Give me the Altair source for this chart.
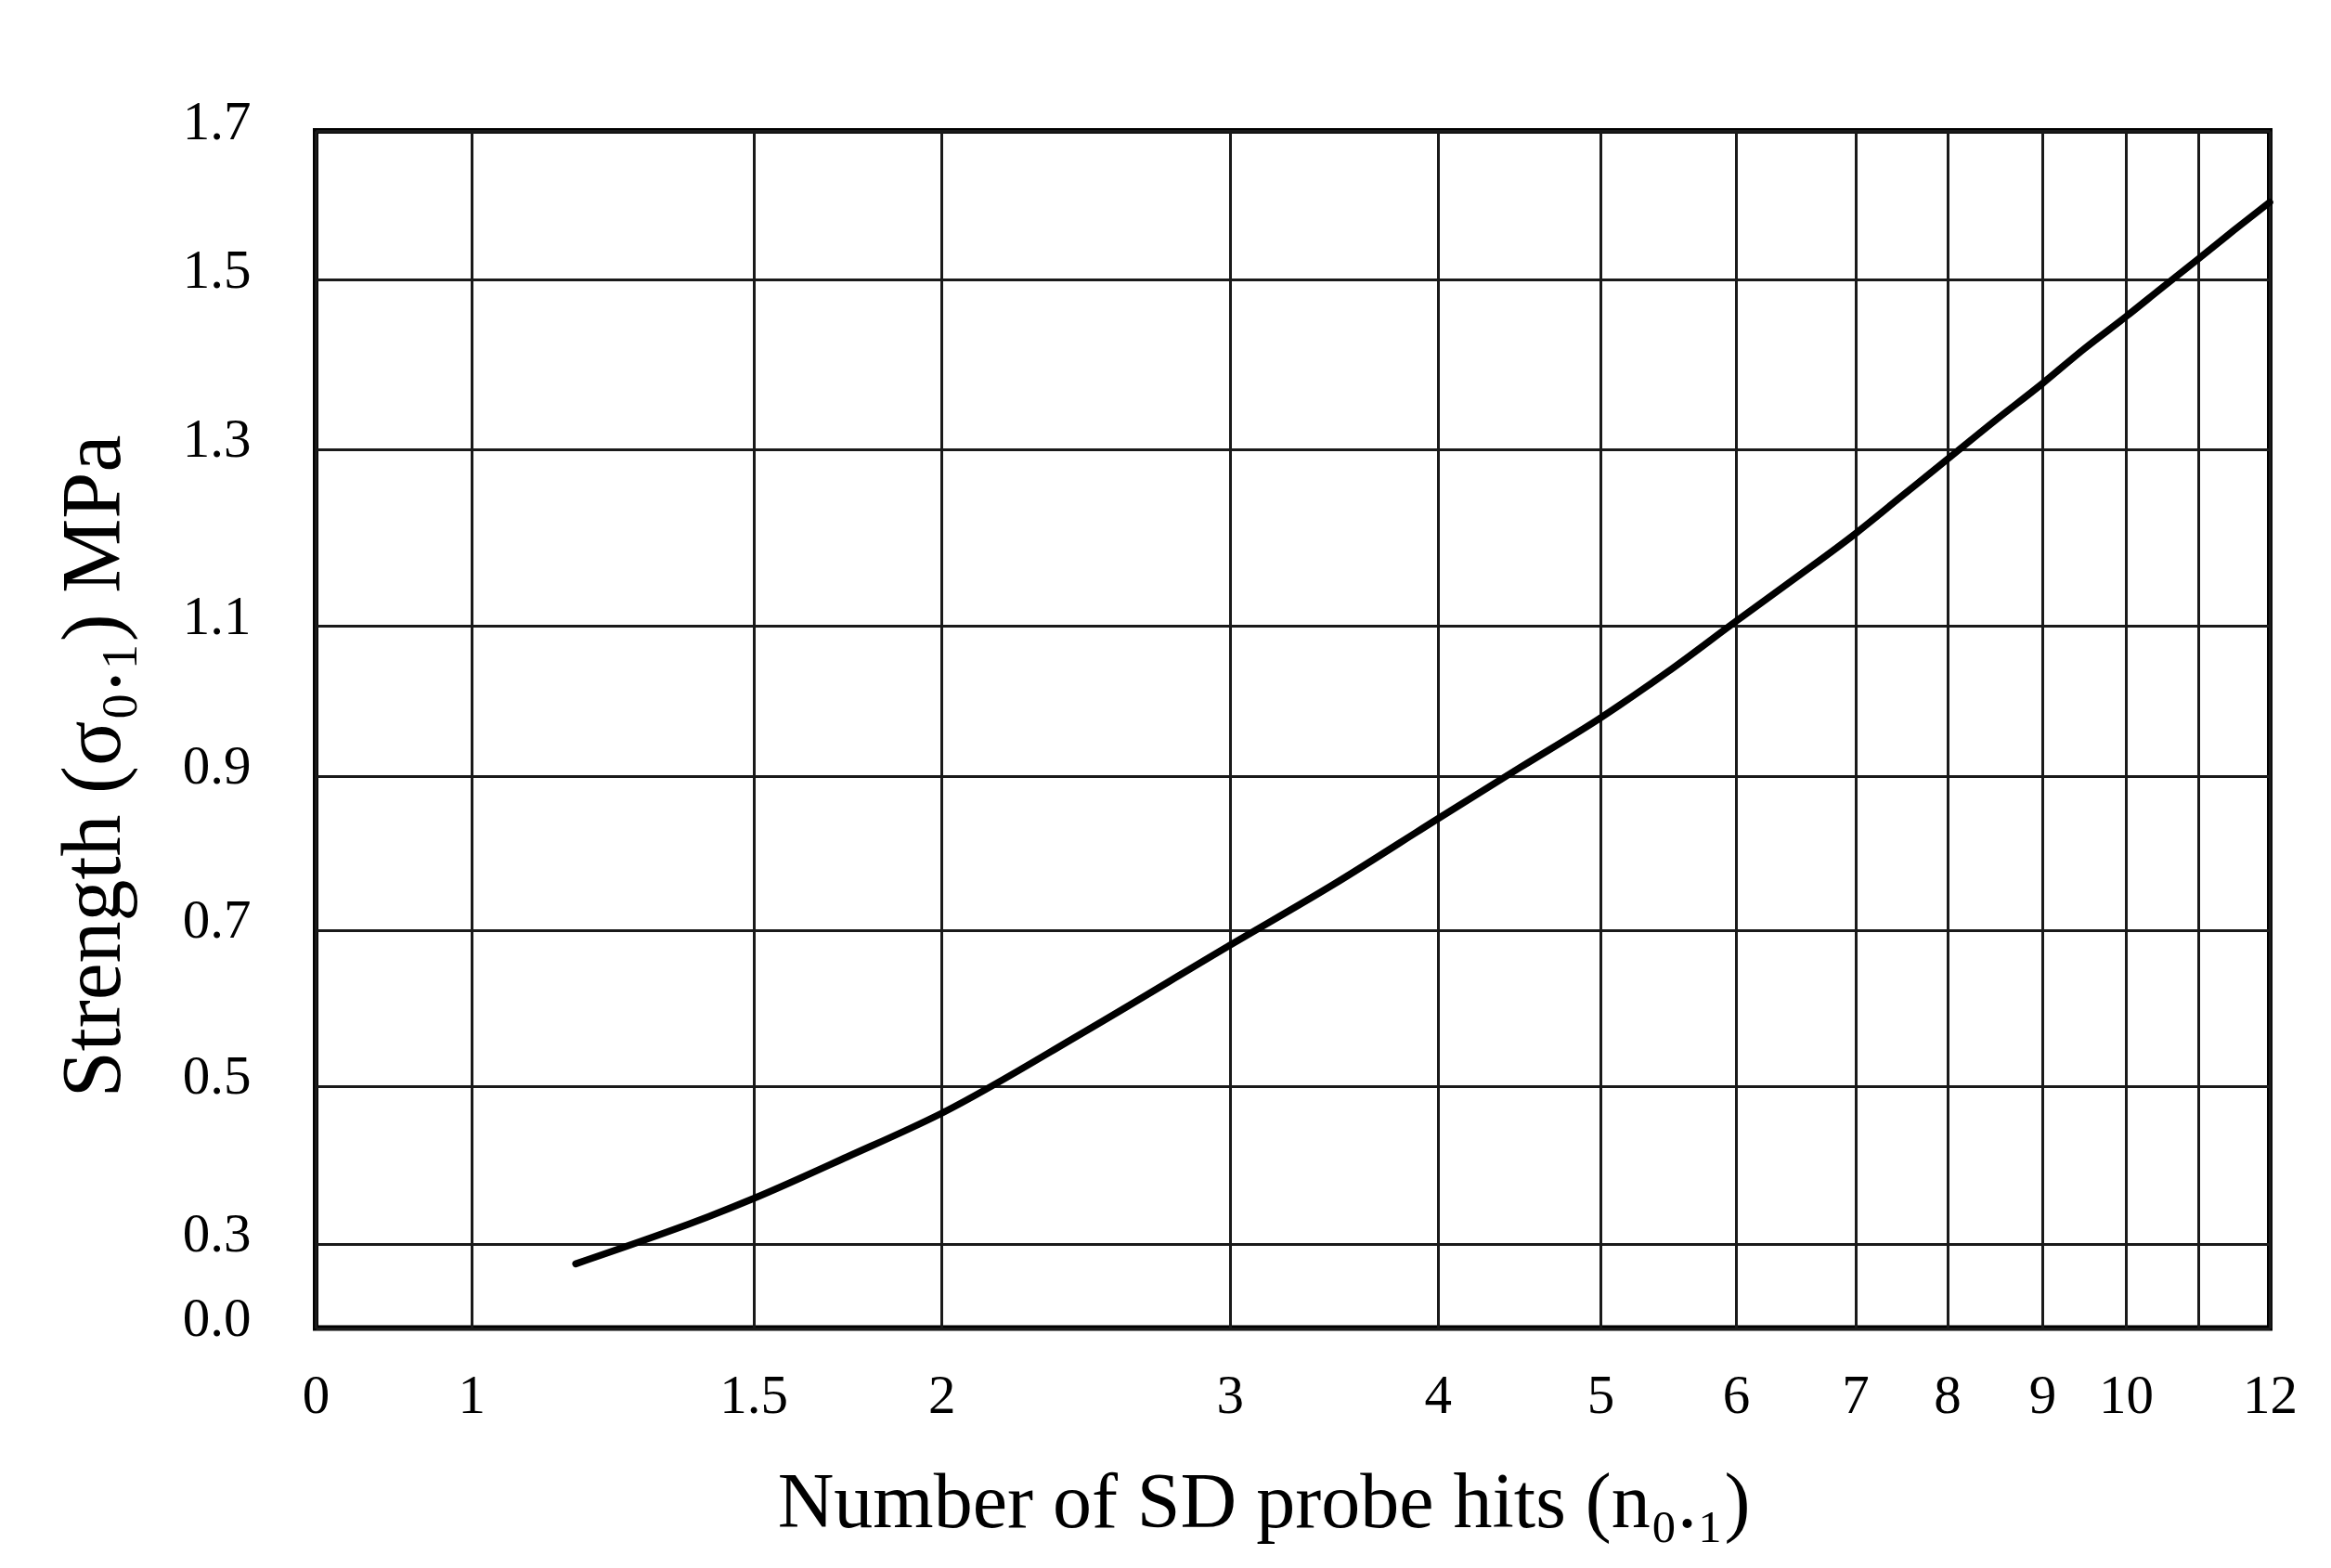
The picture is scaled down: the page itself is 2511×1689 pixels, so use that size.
import altair as alt
import pandas as pd

# Curve (number of hits -> strength, MPa)
hits = [1.185, 1.5, 1.75, 2.0, 2.5, 3.0, 3.5, 4.0, 4.5, 5.0, 5.5, 6.0,
        6.5, 7.0, 7.5, 8.0, 8.5, 9.0, 9.5, 10.0, 10.5, 11.0, 11.5, 12.0]
strength = [0.228, 0.357, 0.410, 0.465, 0.570, 0.680, 0.759, 0.844, 0.910, 0.977, 1.039, 1.105,
            1.154, 1.204, 1.246, 1.288, 1.333, 1.377, 1.418, 1.456, 1.490, 1.527, 1.566, 1.604]

x_ticks = [0, 1, 1.5, 2, 3, 4, 5, 6, 7, 8, 9, 10, 11, 12]
y_ticks = [0.0, 0.3, 0.5, 0.7, 0.9, 1.1, 1.3, 1.5, 1.7]

df = pd.DataFrame({"hits": hits, "strength": strength})

# piecewise (non-uniform) axis scales as drawn on the original graph paper
x_range = [0, 167.7, 471.7, 674.2, 984.7, 1208.8, 1384, 1530, 1658.5, 1757.5, 1860, 1950, 2027.5, 2105]
y_range = [1289.5, 1198.5, 1028.5, 860.5, 694.5, 533, 342.5, 160, 0]

FONT = "Liberation Serif"

chart = alt.Chart(df).mark_line(
    color="black", strokeWidth=7.5, interpolate="monotone", strokeCap="round"
).encode(
    x=alt.X(
        "hits:Q",
        scale=alt.Scale(domain=x_ticks, range=x_range, nice=False, zero=False),
        axis=alt.Axis(
            values=x_ticks, format="~g",
            labelExpr="datum.value == 11 ? '' : datum.label",
            labelFlush=False, labelOverlap=False,
            title="Number of SD probe hits (n₀.₁)",
            titleX=1021, titleY=189, titleAlign="center", titleBaseline="middle",
            labelPadding=44, labelFontSize=59, titleFontSize=84,
        ),
    ),
    y=alt.Y(
        "strength:Q",
        scale=alt.Scale(domain=y_ticks, range=y_range, nice=False, zero=False),
        axis=alt.Axis(
            values=y_ticks, format=".1f",
            labelFlush=False, labelOverlap=False,
            title="Strength (σ₀.₁) MPa",
            titleX=-239, titleY=684, titleAlign="center", titleBaseline="middle", titleAngle=-90,
            labelPadding=70, labelOffset=-10, labelFontSize=59, titleFontSize=90,
        ),
    ),
).properties(
    width=2105,
    height=1289.5,
    autosize=alt.AutoSizeParams(type="none"),
    padding={"left": 332, "top": 133, "right": 50, "bottom": 240},
    background="white",
).configure_view(
    stroke="black", strokeWidth=6
).configure_axis(
    domain=False, ticks=False, tickSize=0, grid=True,
    gridColor="#1a1a1a", gridWidth=3, gridOpacity=1,
    labelFont=FONT, titleFont=FONT, labelColor="black", titleColor="black",
    titleFontWeight="normal",
)

chart.save("out.html", embed_options={"renderer": "svg", "actions": False})
